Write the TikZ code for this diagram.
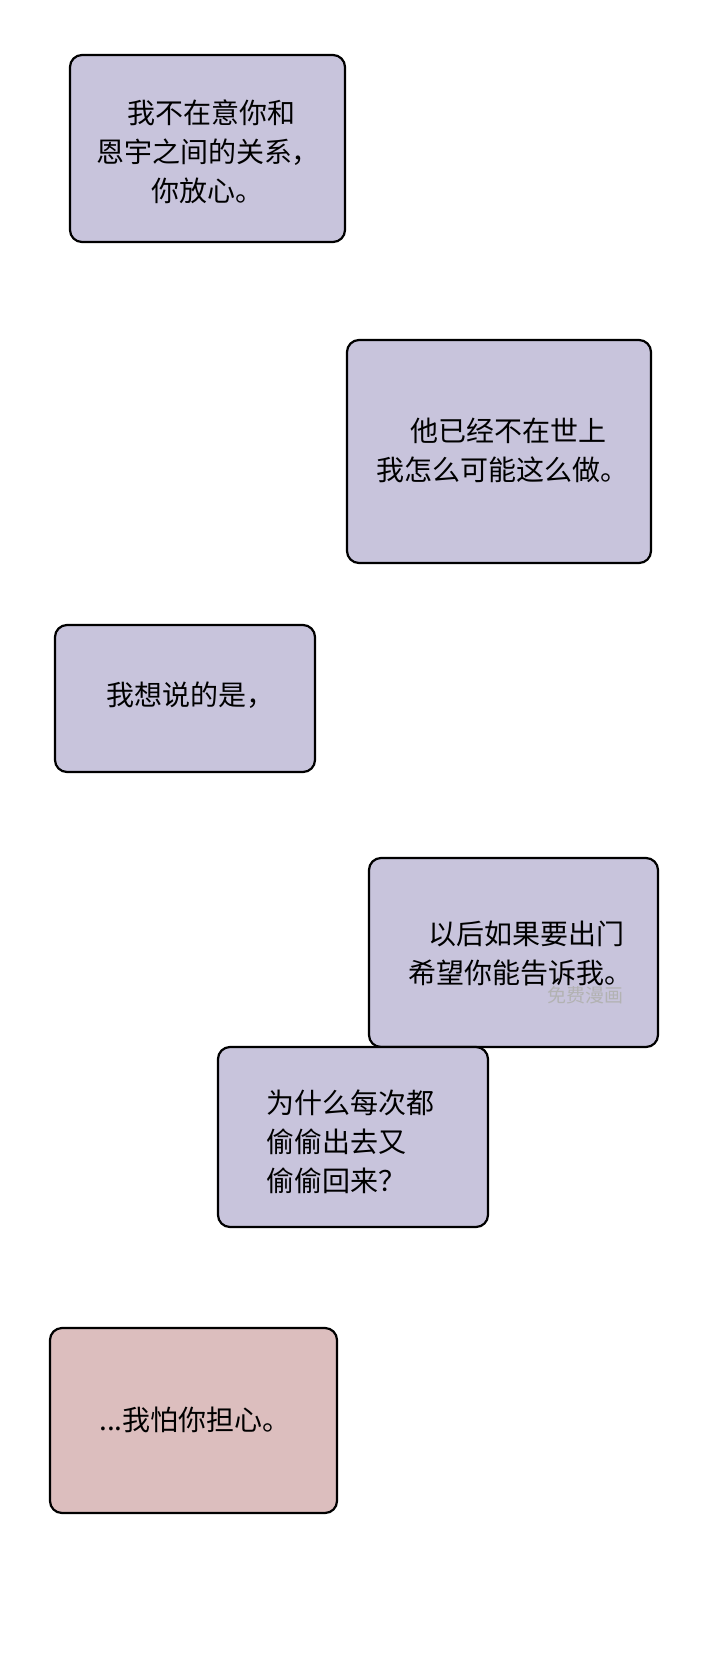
\documentclass[tikz,border=0pt]{standalone}
\usepackage{fontspec}
\setmainfont{Noto Sans CJK SC}
\definecolor{lilac}{RGB}{200,196,220}
\definecolor{rosy}{RGB}{220,190,190}
\begin{document}
\begin{tikzpicture}[
  x=0.5pt, y=-0.5pt,
  bubble/.style={draw=black, line width=1.1pt, rounded corners=6pt},
  every node/.style={font=\fontsize{14}{19.5}\selectfont}
]
\useasboundingbox (0,0) rectangle (720,1666);
\fill[white] (0,0) rectangle (720,1666);

\draw[bubble, fill=lilac] (70,55) rectangle (345,242);
\node[align=center] (first) at (208,152) {\ 我不在意你和\\恩宇之间的关系，\\你放心。};

\draw[bubble, fill=lilac] (347,340) rectangle (651,563);
\node[align=center] (second) at (502,450) {\ \ 他已经不在世上\\我怎么可能这么做。};

\draw[bubble, fill=lilac] (55,625) rectangle (315,772);
\node (third) at (190,695) {我想说的是，};

\draw[bubble, fill=lilac] (369,858) rectangle (658,1047);
\node[align=center] (fourth) at (520,953) {\ \ 以后如果要出门\\希望你能告诉我。};
\node[text=gray!60, font=\fontsize{9.5}{10}\selectfont] (mark) at (585,995) {免费漫画};

\draw[bubble, fill=lilac] (218,1047) rectangle (488,1227);
\node[align=left] (fifth) at (350,1142) {为什么每次都\\偷偷出去又\\偷偷回来？};

\draw[bubble, fill=rosy] (50,1328) rectangle (337,1513);
\node (sixth) at (195,1420) {...我怕你担心。};
\end{tikzpicture}
\end{document}
